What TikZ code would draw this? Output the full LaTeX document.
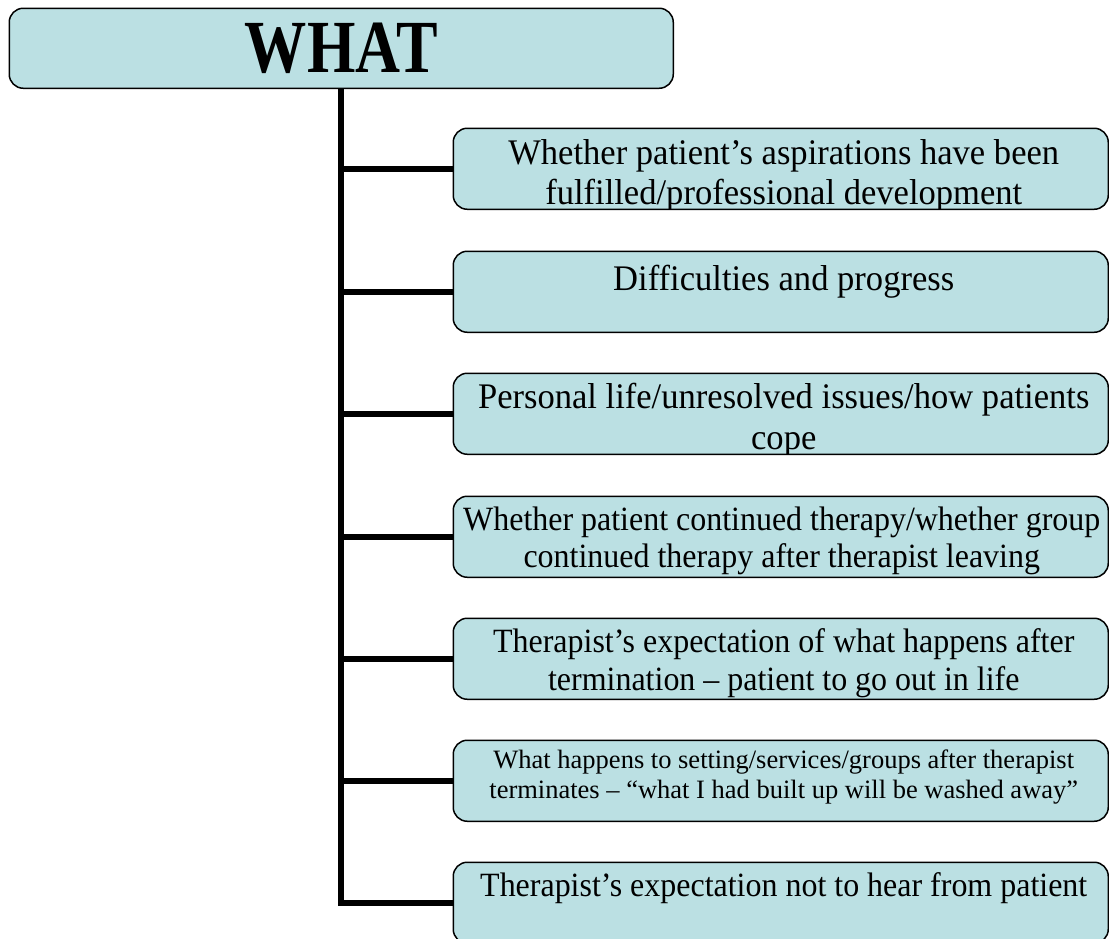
\documentclass[tikz,border=0pt]{standalone}
\usepackage{fontspec}
\usetikzlibrary{calc}
\setmainfont{Liberation Serif}
\newfontfamily\boxfont[FakeStretch=0.96]{Liberation Serif}
\newfontfamily\boxfontb[FakeStretch=0.94]{Liberation Serif}
\newfontfamily\smallboxfont{Liberation Serif}
\newfontfamily\titlefont[FakeStretch=0.83]{Liberation Serif}
\definecolor{boxfill}{RGB}{187,224,227}
\tikzset{
  box/.style={draw=black, line width=1.5pt, fill=boxfill, rounded corners=14pt,
    minimum width=655pt, minimum height=81pt, anchor=north west, inner sep=0pt},
  topbox/.style={draw=black, line width=1.5pt, fill=boxfill, rounded corners=14pt,
    minimum width=664pt, minimum height=80pt, anchor=north west, inner sep=0pt},
  conn/.style={draw=black, line width=6pt},
  txt/.style={anchor=base, inner sep=0pt, font=\boxfont\fontsize{36pt}{39pt}\selectfont},
  txtb/.style={anchor=base, inner sep=0pt, font=\boxfontb\fontsize{34pt}{37pt}\selectfont},
  stxt/.style={anchor=base, inner sep=0pt, font=\smallboxfont\fontsize{26.5pt}{30pt}\selectfont},
  ttxt/.style={anchor=base, inner sep=0pt, font=\titlefont\bfseries\fontsize{75pt}{80pt}\selectfont}
}
\newcommand{\clipbox}[1]{\clip[rounded corners=13pt] ([shift={(0.8pt,0.8pt)}]#1.south west) rectangle ([shift={(-0.8pt,-0.8pt)}]#1.north east);}
\begin{document}
\begin{tikzpicture}[x=1pt,y=1pt]
\useasboundingbox[fill=white] (0,0) rectangle (1109,-938);
% title box
\node[topbox] (top) at (8.5,-7.5) {};
\node[ttxt] (toptext) at ($(top.north)+(0,-65)$) {WHAT};
% child boxes
\node[box] (b1) at (452.5,-127.5) {};
\node[box] (b2) at (452.5,-250.5) {};
\node[box] (b3) at (452.5,-372.5) {};
\node[box] (b4) at (452.5,-495.5) {};
\node[box] (b5) at (452.5,-617.5) {};
\node[box] (b6) at (452.5,-739.5) {};
\node[box] (b7) at (452.5,-861.5) {};
% connectors
\draw[conn] (top.south) |- (b7.west);
\foreach \b in {b1,b2,b3,b4,b5,b6}{
  \draw[conn] (top.south |- \b.west) -- (\b.west);
}
% texts
\begin{scope}
\clipbox{b1}
\node[txt] (t1a) at ($(b1.north)+(3,-37)$) {Whether patient’s aspirations have been};
\node[txt] (t1b) at ($(b1.north)+(3,-77)$) {fulfilled/professional development};
\end{scope}
\node[txt] (t2a) at ($(b2.north)+(3,-40)$) {Difficulties and progress};
\begin{scope}
\clipbox{b3}
\node[txt] (t3a) at ($(b3.north)+(3,-36)$) {Personal life/unresolved issues/how patients};
\node[txt] (t3b) at ($(b3.north)+(3,-77)$) {cope};
\end{scope}
\node[txtb] (t4a) at ($(b4.north)+(1,-35)$) {Whether patient continued therapy/whether group};
\node[txtb] (t4b) at ($(b4.north)+(1,-72)$) {continued therapy after therapist leaving};
\node[txtb] (t5a) at ($(b5.north)+(3,-35)$) {Therapist’s expectation of what happens after};
\node[txtb] (t5b) at ($(b5.north)+(3,-73)$) {termination – patient to go out in life};
\node[stxt] (t6a) at ($(b6.north)+(3,-29)$) {What happens to setting/services/groups after therapist};
\node[stxt] (t6b) at ($(b6.north)+(3,-59)$) {terminates – “what I had built up will be washed away”};
\node[txtb] (t7a) at ($(b7.north)+(3,-35)$) {Therapist’s expectation not to hear from patient};
\end{tikzpicture}
\end{document}
